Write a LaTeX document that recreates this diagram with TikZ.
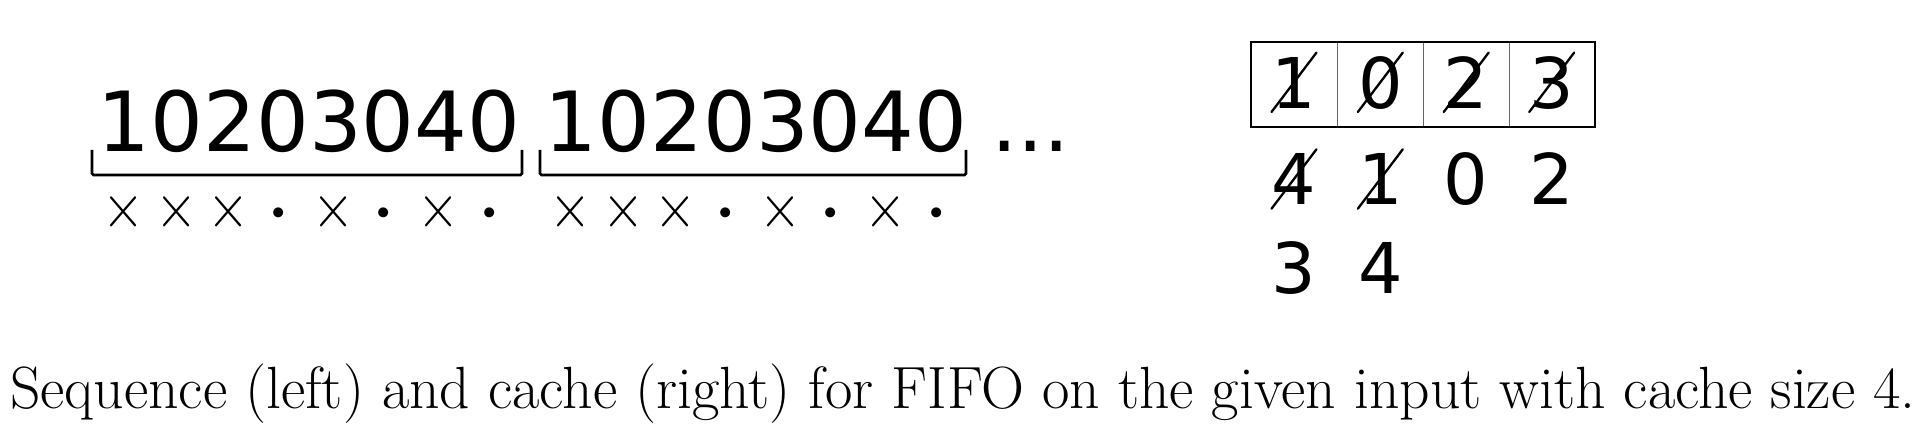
\documentclass[tikz,border=0pt]{standalone}
\usepackage{fontspec}
\usepackage{graphicx}
\newfontfamily\djv{DejaVu Sans}
\newcommand{\crossmark}{\raisebox{0pt}[31bp][0pt]{\scalebox{5.43}[6.29]{$\times$}}}
\newcommand{\hitmark}{\raisebox{0pt}[30bp][0pt]{\scalebox{9.5}{$\cdot$}}}
\begin{document}
\begin{tikzpicture}[x=1bp,y=-1bp,
  seq/.style={inner sep=0pt, anchor=base west, font=\djv\fontsize{83bp}{90bp}\selectfont},
  cross/.style={inner sep=0pt, anchor=base},
  hit/.style={inner sep=0pt, anchor=base},
  cd/.style={inner sep=0pt, anchor=base, font=\djv\fontsize{70bp}{80bp}\selectfont, text height=55.5bp, text depth=3.5bp},
  cell/.style={minimum width=86bp, minimum height=85bp, inner sep=0pt},
  brk/.style={line width=2.7bp, rounded corners=1.5bp},
  strike/.style={line width=2.3bp, line cap=round},
  caption/.style={inner sep=0pt, anchor=base west, font=\fontsize{59.6bp}{66bp}\selectfont}
]
\useasboundingbox (0,0) rectangle (1932,434);
% sequence
\node[seq] (s1) at (97.7,151.7) {10203040};
\node[seq] (s2) at (544.7,151.7) {10203040};
\node[seq] (dots) at (990.8,151.7) {...};
\draw[brk] (92,150) |- (522,175) -- (522,150);
\draw[brk] (540,150) |- (966,175) -- (966,150);
% marks
\foreach \g/\o in {a/0, b/447}{
  \node[cross] (\g1) at (124+\o,227.7) {\crossmark};
  \node[cross] (\g2) at (176.5+\o,227.7) {\crossmark};
  \node[cross] (\g3) at (229+\o,227.7) {\crossmark};
  \node[hit]   (\g4) at (278.9+\o,236.9) {\hitmark};
  \node[cross] (\g5) at (334+\o,227.7) {\crossmark};
  \node[hit]   (\g6) at (383.9+\o,236.9) {\hitmark};
  \node[cross] (\g7) at (439+\o,227.7) {\crossmark};
  \node[hit]   (\g8) at (489.2+\o,236.9) {\hitmark};
}
% cache
\node[cell] (c1) at (1294,84.8) {};
\node[cell] (c2) at (1380.3,84.8) {};
\node[cell] (c3) at (1466.2,84.8) {};
\node[cell] (c4) at (1551.7,84.8) {};
\draw[line width=1.2bp, black!60] (c1.north east) -- (c1.south east);
\draw[line width=1.2bp, black!60] (c2.north east) -- (c2.south east);
\draw[line width=1.2bp, black!60] (c3.north east) -- (c3.south east);
\draw[line width=2bp] (c1.north west) rectangle (c4.south east);
\node[cd] (r11) at (1294,108.3) {1};
\node[cd] (r12) at (1380.3,108.3) {0};
\node[cd] (r13) at (1466.2,108.3) {2};
\node[cd] (r14) at (1551.7,108.3) {3};
\node[cd] (r21) at (1294,205) {4};
\node[cd] (r22) at (1380.3,205) {1};
\node[cd] (r23) at (1466.2,205) {0};
\node[cd] (r24) at (1551.7,205) {2};
\node[cd] (r31) at (1294,293.3) {3};
\node[cd] (r32) at (1380.3,293.3) {4};
\foreach \n in {r11,r12,r13,r14,r21,r22}{
  \draw[strike] (\n.south west) -- (\n.north east);
}
% caption
\node[caption] (cap) at (10,408) {Sequence (left) and cache (right) for FIFO on the given input with cache size 4.};
\end{tikzpicture}
\end{document}
